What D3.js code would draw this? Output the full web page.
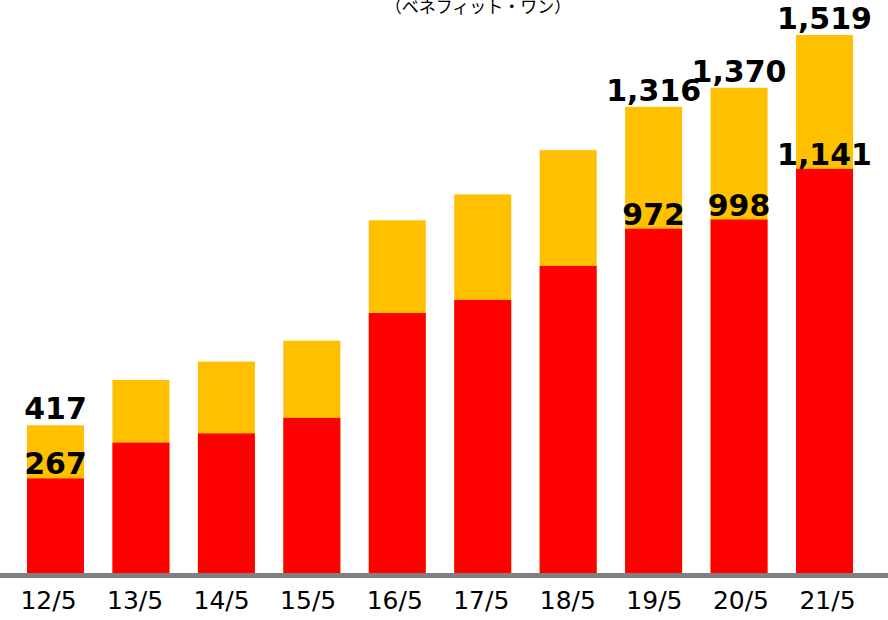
<!DOCTYPE html>
<html>
<head>
<meta charset="utf-8">
<script src="https://cdn.jsdelivr.net/npm/d3@7"></script>
<style>
  body { margin: 0; background: #fff; }
  svg { display: block; }
</style>
</head>
<body>
<div id="chart"></div>
<script>
// data
var periods = ['12/5', '13/5', '14/5', '15/5', '16/5', '17/5', '18/5', '19/5', '20/5', '21/5'];
var totals  = [417, 545, 597, 656, 996, 1069, 1194, 1316, 1370, 1519];
var lower   = [267, 368, 394, 438, 734, 771, 867, 972, 998, 1141];
var labeled = ['12/5', '19/5', '20/5', '21/5'];
var caption = '（ベネフィット・ワン）';

var width = 888, height = 620;
var baseY = 573;

var svg = d3.select('#chart')
  .append('svg')
  .attr('width', width)
  .attr('height', height);

var x = d3.scaleBand()
  .domain(periods)
  .range([27, 853])
  .paddingInner(0.333)
  .paddingOuter(0);

// tick labels sit on a slightly wider spacing than the bars
var xLab = d3.scalePoint()
  .domain(periods)
  .range([48, 827]);

var y = d3.scaleLinear()
  .domain([0, 1519])
  .range([baseY, 35]);

var rows = periods.map(function(p, i) {
  return {period: p, total: totals[i], low: lower[i]};
});

// caption, cut off at the top edge (as in the source slide)
svg.append('text')
  .attr('x', 478)
  .attr('y', 13)
  .attr('text-anchor', 'middle')
  .style('font-family', '"Noto Sans CJK JP", sans-serif')
  .style('font-size', '17px')
  .attr('fill', '#000')
  .text(caption);

var bars = svg.append('g').attr('class', 'bars');

// yellow: whole bar up to total
bars.selectAll('rect.top')
  .data(rows)
  .enter().append('rect')
    .attr('class', 'top')
    .attr('x', function(d) { return x(d.period); })
    .attr('width', x.bandwidth())
    .attr('y', function(d) { return y(d.total); })
    .attr('height', function(d) { return y(0) - y(d.total); })
    .attr('fill', '#FFC000');

// red part
bars.selectAll('rect.low')
  .data(rows)
  .enter().append('rect')
    .attr('class', 'low')
    .attr('x', function(d) { return x(d.period); })
    .attr('width', x.bandwidth())
    .attr('y', function(d) { return y(d.low); })
    .attr('height', function(d) { return y(0) - y(d.low); })
    .attr('fill', '#FF0000');

// baseline
svg.append('line')
  .attr('x1', 0)
  .attr('x2', width)
  .attr('y1', baseY + 2.5)
  .attr('y2', baseY + 2.5)
  .attr('stroke', '#808080')
  .attr('stroke-width', 5);

// x axis labels
var xAxis = d3.axisBottom(xLab).tickSize(0).tickPadding(0);
var gx = svg.append('g')
  .attr('transform', 'translate(0,' + 584 + ')')
  .call(xAxis);
gx.select('.domain').remove();
gx.selectAll('text')
  .attr('dy', '1em')
  .style('font-family', '"DejaVu Sans", Verdana, sans-serif')
  .style('font-size', '25px')
  .attr('fill', '#000');

// value labels
var fmt = d3.format(',');
var lab = rows.filter(function(d) { return labeled.indexOf(d.period) >= 0; });
var labels = svg.append('g')
  .style('font-family', '"DejaVu Sans", Verdana, sans-serif')
  .style('font-size', '30px')
  .style('font-weight', 'bold')
  .attr('text-anchor', 'middle')
  .attr('fill', '#000');

labels.selectAll('text.tot')
  .data(lab)
  .enter().append('text')
    .attr('class', 'tot')
    .attr('x', function(d) { return x(d.period) + x.bandwidth() / 2; })
    .attr('y', function(d) { return y(d.total) - 6; })
    .text(function(d) { return fmt(d.total); });

labels.selectAll('text.lo')
  .data(lab)
  .enter().append('text')
    .attr('class', 'lo')
    .attr('x', function(d) { return x(d.period) + x.bandwidth() / 2; })
    .attr('y', function(d) { return y(d.low) - 4; })
    .text(function(d) { return fmt(d.low); });
</script>
</body>
</html>
